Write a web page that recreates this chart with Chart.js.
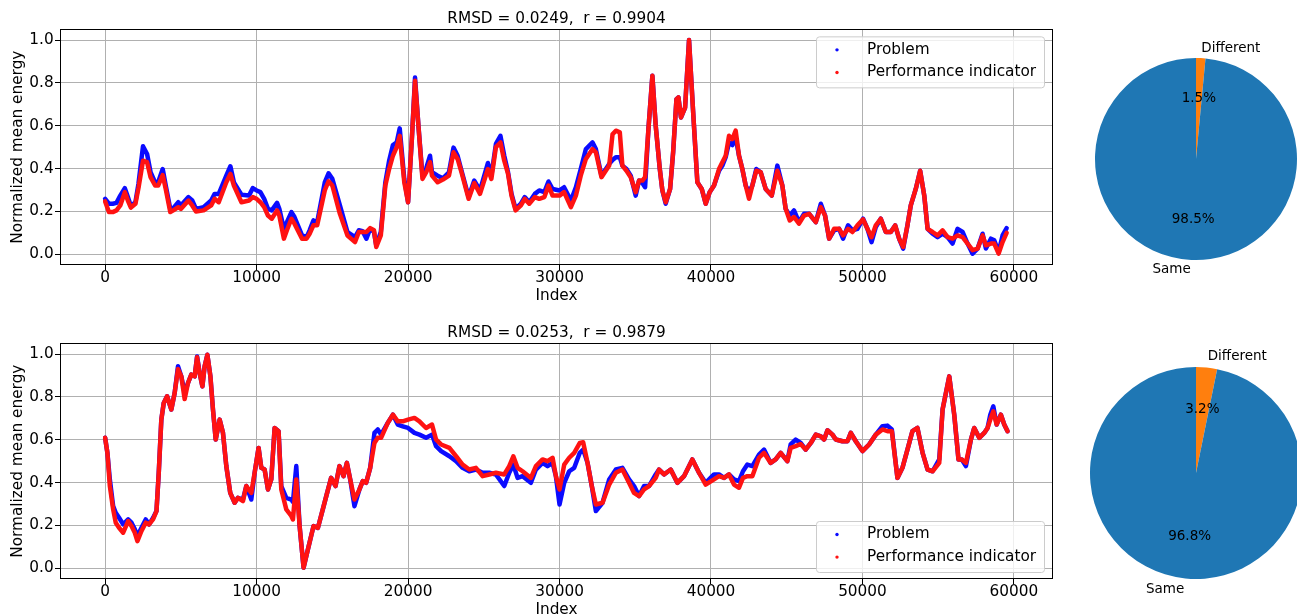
<!DOCTYPE html>
<html>
<head>
<meta charset="utf-8">
<title>Problem vs performance indicator</title>
<script src="https://cdn.jsdelivr.net/npm/chart.js@4/dist/chart.umd.min.js"></script>
<style>
  html, body { margin: 0; padding: 0; background: #fff; overflow: hidden; }
  #page { position: relative; width: 1297px; height: 616px; overflow: hidden; background: #fff; }
  canvas { position: absolute; }
</style>
</head>
<body>
<div id="page">
  <canvas id="topLine" width="1060" height="310" style="left:0;top:0"></canvas>
  <canvas id="bottomLine" width="1060" height="310" style="left:0;top:314px"></canvas>
  <canvas id="topPie" width="240" height="310" style="left:1060px;top:0"></canvas>
  <canvas id="bottomPie" width="260" height="310" style="left:1060px;top:314px"></canvas>
</div>
<script>
// --- Data ---

const seriesNames = ['Problem', 'Performance indicator'];
const xTicks = [0, 10000, 20000, 30000, 40000, 50000, 60000];
const yTicks = [0, 0.2, 0.4, 0.6, 0.8, 1.0];
const yTickLabels = ['0.0', '0.2', '0.4', '0.6', '0.8', '1.0'];

const topTitle = 'RMSD = 0.0249,  r = 0.9904';
const bottomTitle = 'RMSD = 0.0253,  r = 0.9879';

const topIndex = [
  0, 250, 500, 750, 1000, 1300, 1500, 1700, 2000, 2200,
  2500, 2770, 3000, 3300, 3500, 3800, 4000, 4300, 4500, 4830,
  5000, 5500, 5750, 6000, 6500, 7000, 7230, 7500, 8000, 8270,
  8500, 9000, 9500, 9750, 10000, 10250, 10500, 10750, 11000, 11350,
  11500, 11800, 12000, 12300, 12500, 13000, 13300, 13500, 13750, 14000,
  14500, 14750, 15000, 15500, 16000, 16500, 16750, 17000, 17250, 17500,
  17750, 17900, 18200, 18500, 18750, 19000, 19250, 19450, 19750, 20000,
  20250, 20460, 20700, 20950, 21200, 21450, 21580, 21950, 22300, 22700,
  23000, 23270, 23500, 24000, 24370, 24750, 25270, 25500, 25800, 26100,
  26350, 26600, 26830, 27100, 27450, 27700, 28000, 28370, 28660, 29000,
  29270, 29540, 30000, 30300, 30750, 31080, 31400, 31740, 32180, 32400,
  32770, 33280, 33500, 33720, 33980, 34150, 34420, 34700, 35030, 35250,
  35470, 35650, 35870, 36130, 36350, 36620, 36790, 37010, 37300, 37500,
  37720, 37850, 38020, 38290, 38550, 38810, 39100, 39390, 39650, 39910,
  40200, 40530, 40750, 40970, 41190, 41410, 41630, 41850, 42070, 42290,
  42510, 42730, 42990, 43280, 43610, 44010, 44380, 44710, 44930, 45200,
  45480, 45810, 46140, 46480, 46920, 47250, 47530, 47800, 48130, 48460,
  48720, 49050, 49340, 49670, 50040, 50330, 50600, 50880, 51210, 51540,
  51870, 52160, 52420, 52690, 52970, 53190, 53520, 53810, 54080, 54300,
  54630, 54960, 55290, 55620, 55950, 56280, 56610, 56940, 57270, 57600,
  57930, 58150, 58480, 58700, 58990, 59250, 59520
];
const topProblem = [
  .259, .236, .236, .240, .274, .309, .267, .225, .243, .329,
  .504, .468, .383, .336, .336, .398, .321, .212, .215, .243,
  .228, .267, .251, .212, .220, .251, .282, .282, .367, .411,
  .336, .278, .274, .309, .298, .290, .259, .212, .205, .240,
  .212, .119, .150, .197, .174, .088, .080, .112, .158, .150,
  .336, .378, .352, .228, .104, .080, .112, .108, .073, .119,
  .104, .042, .104, .336, .437, .510, .522, .588, .352, .243,
  .538, .825, .585, .367, .402, .460, .383, .367, .355, .383,
  .498, .460, .398, .267, .344, .298, .426, .367, .515, .553,
  .460, .383, .282, .212, .236, .267, .243, .282, .298, .290,
  .340, .305, .298, .313, .251, .313, .398, .491, .522, .491,
  .367, .422, .440, .453, .453, .414, .398, .367, .274, .344,
  .333, .313, .585, .833, .600, .398, .298, .236, .305, .476,
  .724, .732, .639, .685, 1.000, .678, .336, .305, .236, .290,
  .321, .390, .414, .453, .522, .510, .546, .460, .398, .321,
  .290, .321, .398, .383, .305, .274, .414, .321, .212, .181,
  .205, .150, .189, .189, .150, .236, .181, .073, .112, .119,
  .073, .135, .112, .119, .166, .119, .057, .127, .166, .104,
  .104, .135, .073, .026, .135, .228, .305, .390, .274, .119,
  .096, .080, .096, .080, .050, .119, .104, .050, .003, .026,
  .096, .027, .073, .065, .011, .088, .122
];
const topIndicator = [
  .247, .197, .197, .205, .228, .290, .251, .218, .236, .309,
  .437, .430, .360, .321, .321, .370, .305, .197, .205, .220,
  .212, .251, .228, .200, .205, .228, .259, .243, .336, .375,
  .321, .243, .251, .267, .259, .243, .220, .181, .166, .205,
  .181, .073, .112, .166, .143, .073, .073, .096, .135, .135,
  .298, .341, .321, .189, .088, .057, .104, .104, .104, .122,
  .112, .034, .088, .321, .398, .460, .500, .553, .336, .243,
  .538, .810, .585, .352, .383, .430, .367, .336, .349, .367,
  .476, .445, .390, .259, .333, .282, .398, .352, .500, .522,
  .437, .375, .274, .205, .228, .259, .236, .267, .259, .267,
  .321, .274, .274, .290, .220, .274, .367, .445, .491, .476,
  .360, .414, .560, .577, .569, .414, .390, .360, .290, .344,
  .344, .360, .585, .833, .600, .398, .298, .243, .305, .476,
  .724, .732, .639, .685, 1.000, .678, .336, .305, .236, .290,
  .321, .398, .430, .460, .553, .538, .577, .460, .398, .321,
  .259, .321, .390, .383, .305, .274, .390, .321, .212, .158,
  .174, .143, .181, .189, .150, .220, .181, .073, .119, .119,
  .088, .119, .104, .135, .163, .119, .080, .135, .166, .104,
  .104, .135, .073, .034, .135, .228, .305, .390, .274, .119,
  .104, .088, .112, .080, .073, .088, .080, .050, .019, .026,
  .088, .042, .050, .050, .003, .057, .100
];

const bottomIndex = [
  0, 150, 310, 530, 700, 920, 1190, 1520, 1740, 1960,
  2130, 2400, 2680, 2900, 3170, 3390, 3540, 3710, 3870, 4090,
  4370, 4590, 4810, 5030, 5250, 5470, 5690, 5910, 6070, 6240,
  6420, 6570, 6750, 6950, 7120, 7300, 7560, 7780, 8000, 8260,
  8550, 8770, 9100, 9320, 9650, 9870, 10130, 10310, 10530, 10750,
  10970, 11190, 11450, 11630, 11960, 12290, 12400, 12620, 12840, 13100,
  13390, 13760, 14050, 14370, 14600, 14920, 15210, 15470, 15740, 15960,
  16180, 16460, 16790, 17010, 17230, 17500, 17780, 18000, 18220, 18660,
  19000, 19320, 19650, 20000, 20420, 20750, 21190, 21580, 21850, 22180,
  22730, 23170, 23600, 24040, 24480, 24920, 25360, 25800, 26350, 26680,
  26950, 27230, 27560, 28110, 28440, 28880, 29210, 29540, 29760, 30000,
  30310, 30640, 30970, 31340, 31560, 31850, 32130, 32400, 32840, 33280,
  33720, 34150, 34590, 34920, 35250, 35580, 35910, 36350, 36570, 36900,
  37340, 37780, 38220, 38770, 39210, 39650, 40200, 40530, 40860, 41190,
  41520, 41850, 42110, 42400, 42730, 43170, 43500, 43940, 44270, 44600,
  45040, 45260, 45590, 45920, 46250, 46590, 46920, 47250, 47470, 47690,
  48020, 48240, 48680, 49010, 49230, 49560, 50000, 50440, 50880, 51320,
  51650, 51940, 52310, 52640, 52970, 53300, 53630, 53970, 54300, 54630,
  55070, 55290, 55730, 56060, 56340, 56560, 56830, 57160, 57380, 57710,
  58040, 58260, 58440, 58640, 58860, 59140, 59360, 59580
];
const bottomProblem = [
  .609, .539, .415, .290, .259, .236, .205, .228, .213, .182,
  .151, .189, .228, .205, .236, .267, .446, .694, .772, .803,
  .741, .818, .943, .896, .818, .865, .904, .896, .989, .911,
  .849, .943, .997, .896, .741, .601, .694, .632, .477, .352,
  .306, .329, .321, .384, .321, .446, .562, .469, .461, .368,
  .415, .655, .640, .384, .329, .321, .310, .477, .197, .003,
  .089, .197, .189, .275, .337, .422, .384, .477, .430, .492,
  .415, .290, .368, .407, .399, .469, .632, .648, .624, .679,
  .717, .671, .663, .655, .632, .624, .609, .624, .570, .547,
  .523, .500, .469, .453, .461, .446, .446, .438, .384, .446,
  .484, .422, .430, .399, .461, .492, .477, .492, .430, .298,
  .399, .453, .469, .539, .554, .492, .384, .267, .306, .415,
  .461, .469, .415, .384, .337, .384, .384, .438, .461, .438,
  .461, .399, .430, .508, .446, .399, .438, .438, .422, .438,
  .415, .407, .453, .484, .477, .531, .554, .492, .508, .539,
  .500, .578, .601, .585, .554, .585, .624, .616, .601, .644,
  .624, .601, .593, .593, .632, .593, .547, .578, .624, .663,
  .666, .648, .422, .469, .554, .640, .655, .539, .461, .453,
  .508, .741, .896, .717, .508, .508, .477, .601, .655, .609,
  .632, .655, .717, .756, .671, .717, .671, .640
];
const bottomIndicator = [
  .609, .539, .384, .275, .213, .189, .166, .220, .197, .166,
  .127, .174, .213, .205, .230, .267, .446, .694, .772, .803,
  .741, .818, .930, .896, .790, .865, .904, .896, .985, .911,
  .849, .943, .997, .896, .741, .601, .694, .632, .477, .352,
  .306, .329, .314, .384, .352, .446, .562, .469, .461, .368,
  .415, .655, .640, .368, .275, .244, .228, .415, .197, .003,
  .089, .197, .189, .275, .337, .422, .384, .477, .430, .492,
  .415, .321, .368, .407, .399, .469, .585, .609, .609, .679,
  .717, .686, .686, .694, .702, .686, .655, .671, .601, .578,
  .562, .523, .484, .461, .469, .430, .438, .446, .438, .477,
  .523, .469, .453, .422, .477, .508, .500, .516, .430, .368,
  .484, .516, .539, .585, .588, .492, .384, .298, .306, .391,
  .446, .461, .399, .352, .337, .368, .384, .422, .461, .438,
  .461, .399, .430, .508, .446, .391, .415, .430, .422, .438,
  .391, .376, .422, .430, .430, .516, .539, .492, .508, .539,
  .500, .562, .570, .580, .554, .585, .624, .616, .601, .644,
  .624, .601, .593, .593, .632, .593, .547, .578, .624, .648,
  .640, .640, .422, .469, .554, .640, .655, .539, .461, .453,
  .492, .741, .896, .717, .508, .508, .492, .601, .655, .609,
  .632, .655, .694, .733, .671, .717, .671, .640
];

const pieLabels = ['Different', 'Same'];
const topPieValues = [1.5, 98.5];
const bottomPieValues = [3.2, 96.8];

// --- Shared look ---

Chart.defaults.font.family = '"DejaVu Sans"';
Chart.defaults.font.size = 15.3;
Chart.defaults.color = '#000';

const GRID = '#b0b0b0';

// black box round the plot area, drawn over the data like matplotlib spines
const frame = {
    id: 'frame',
    afterDatasetsDraw(chart) {
        const { ctx, chartArea: a } = chart;
        ctx.save();
        ctx.strokeStyle = '#000';
        ctx.lineWidth = 1;
        ctx.strokeRect(Math.round(a.left) + 0.5, Math.round(a.top) + 0.5,
            Math.round(a.right - a.left) - 1, Math.round(a.bottom - a.top) - 1);
        ctx.restore();
    }
};

// legend box inside the plot, top right or bottom right
const boxLegend = {
    id: 'boxLegend',
    afterDraw(chart, args, opts) {
        const { ctx, chartArea: a } = chart;
        const w = 228, h = 51;
        const x = a.right - 9 - w;
        const y = opts.place === 'top' ? a.top + 7 : a.bottom - 7 - h;
        ctx.save();
        ctx.beginPath();
        ctx.roundRect(x + 0.5, y + 0.5, w, h, 3);
        ctx.fillStyle = 'rgba(255,255,255,0.8)';
        ctx.fill();
        ctx.strokeStyle = '#cccccc';
        ctx.lineWidth = 1;
        ctx.stroke();
        ctx.font = '15.3px "DejaVu Sans"';
        ctx.textBaseline = 'middle';
        ctx.textAlign = 'left';
        chart.data.datasets.forEach((ds, i) => {
            const cy = y + 13.5 + i * 22.6;
            ctx.beginPath();
            ctx.arc(x + 21, cy, 1.7, 0, Math.PI * 2);
            ctx.fillStyle = ds.borderColor;
            ctx.fill();
            ctx.fillStyle = '#000';
            ctx.fillText(ds.label, x + 51, cy);
        });
        ctx.restore();
    }
};

// wedge labels outside, percentages inside, placed like matplotlib's pie
const pieText = {
    id: 'pieText',
    afterDatasetsDraw(chart) {
        const { ctx } = chart;
        const values = chart.data.datasets[0].data;
        const total = values.reduce((s, v) => s + v, 0);
        ctx.save();
        ctx.font = '13.5px "DejaVu Sans"';
        ctx.fillStyle = '#000';
        ctx.textBaseline = 'middle';
        chart.getDatasetMeta(0).data.forEach((arc, i) => {
            const p = arc.getProps(['x', 'y', 'startAngle', 'endAngle', 'outerRadius'], true);
            const mid = (p.startAngle + p.endAngle) / 2;
            const dx = Math.cos(mid), dy = Math.sin(mid);
            ctx.textAlign = dx > 0 ? 'left' : 'right';
            ctx.fillText(chart.data.labels[i], p.x + dx * p.outerRadius * 1.1, p.y + dy * p.outerRadius * 1.1);
            ctx.textAlign = 'center';
            ctx.fillText((values[i] / total * 100).toFixed(1) + '%', p.x + dx * p.outerRadius * 0.6, p.y + dy * p.outerRadius * 0.6);
        });
        ctx.restore();
    }
};

function lineChart(id, title, idx, problem, indicator, legendPlace) {
    const points = vals => idx.map((x, i) => ({ x: x, y: vals[i] }));
    return new Chart(document.getElementById(id), {
        type: 'scatter',
        data: {
            datasets: [{
                label: seriesNames[0],
                data: points(problem),
                showLine: true,
                borderColor: '#0b0bff',
                borderWidth: 4.5,
                borderJoinStyle: 'round',
                borderCapStyle: 'round',
                pointRadius: 0,
                order: 2
            }, {
                label: seriesNames[1],
                data: points(indicator),
                showLine: true,
                borderColor: '#ff1212',
                borderWidth: 4.5,
                borderJoinStyle: 'round',
                borderCapStyle: 'round',
                pointRadius: 0,
                order: 1
            }]
        },
        options: {
            responsive: false,
            animation: false,
            devicePixelRatio: 1,
            layout: { padding: { left: 0, right: 7, top: 0, bottom: 0 } },
            plugins: {
                legend: { display: false },
                tooltip: { enabled: false },
                title: {
                    display: true,
                    text: title,
                    fullSize: false,
                    padding: { top: 10, bottom: 1 },
                    font: { size: 15.3, weight: 'normal' },
                    color: '#000'
                },
                boxLegend: { place: legendPlace }
            },
            scales: {
                x: {
                    type: 'linear',
                    min: -2980,
                    max: 62580,
                    afterBuildTicks: s => { s.ticks = xTicks.map(v => ({ value: v })); },
                    afterFit: s => { s.height = 45; },
                    ticks: { padding: -1, autoSkip: false, maxRotation: 0, callback: v => String(v) },
                    grid: { color: GRID, tickColor: '#000', tickLength: 5, lineWidth: 1 },
                    border: { display: false },
                    title: { display: true, text: 'Index', padding: { top: 0, bottom: 5 } }
                },
                y: {
                    min: -0.05,
                    max: 1.05,
                    afterBuildTicks: s => { s.ticks = yTicks.map(v => ({ value: v })); },
                    afterFit: s => { s.width = 60; },
                    ticks: { padding: 1.3, autoSkip: false, callback: (v, i) => yTickLabels[i] },
                    grid: { color: GRID, tickColor: '#000', tickLength: 5, lineWidth: 1 },
                    border: { display: false },
                    title: { display: true, text: 'Normalized mean energy', padding: { top: 9, bottom: 0 } }
                }
            }
        },
        plugins: [frame, boxLegend]
    });
}

function pieChart(id, values, pad) {
    return new Chart(document.getElementById(id), {
        type: 'pie',
        data: {
            labels: pieLabels,
            datasets: [{
                data: values,
                backgroundColor: ['#ff7f0e', '#1f77b4'],
                borderWidth: 0
            }]
        },
        options: {
            responsive: false,
            animation: false,
            devicePixelRatio: 1,
            layout: { padding: pad },
            plugins: {
                legend: { display: false },
                tooltip: { enabled: false }
            }
        },
        plugins: [pieText]
    });
}

lineChart('topLine', topTitle, topIndex, topProblem, topIndicator, 'top');
lineChart('bottomLine', bottomTitle, bottomIndex, bottomProblem, bottomIndicator, 'bottom');
pieChart('topPie', topPieValues, { left: 35, right: 3, top: 58, bottom: 50 });
pieChart('bottomPie', bottomPieValues, { left: 30, right: 18, top: 53, bottom: 45 });
</script>
</body>
</html>
